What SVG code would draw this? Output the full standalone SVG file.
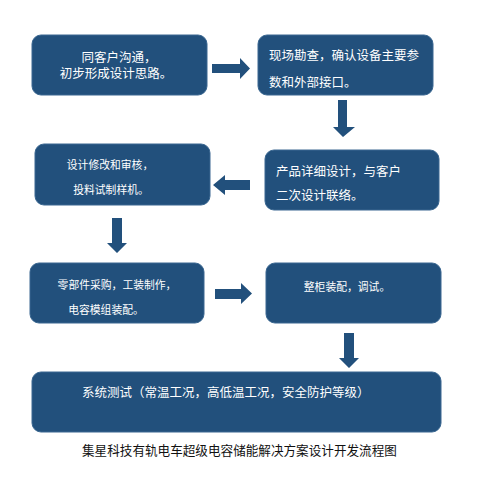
<svg xmlns="http://www.w3.org/2000/svg" width="480" height="494" viewBox="0 0 480 494">
<style>
.box{fill:#22507c;stroke:#3a6791;stroke-width:1}
.arr{fill:#22507c}
.t{font-family:"Liberation Sans","Noto Sans CJK SC",sans-serif;fill:#ffffff;font-size:12.5px}
.s{font-size:10.8px}
.cap{font-family:"Liberation Sans","Noto Sans CJK SC",sans-serif;fill:#111111;font-size:12.6px}
</style>
<rect width="480" height="494" fill="#ffffff"/>
<g id="n1"><rect class="box" x="32" y="35" width="175" height="60" rx="9"/>
<text class="t" x="119" y="62" text-anchor="middle">同客户沟通，</text>
<text class="t" x="116" y="78" text-anchor="middle">初步形成设计思路。</text></g>
<g id="n2"><rect class="box" x="258" y="35" width="175" height="60" rx="9"/>
<text class="t" x="269" y="60">现场勘查，确认设备主要参</text>
<text class="t" x="269" y="87">数和外部接口。</text></g>
<g id="n3"><rect class="box" x="35" y="144" width="175" height="61" rx="9"/>
<text class="t s" x="110" y="169" text-anchor="middle">设计修改和审核，</text>
<text class="t s" x="111" y="194" text-anchor="middle">投料试制样机。</text></g>
<g id="n4"><rect class="box" x="265" y="150" width="174" height="60" rx="9"/>
<text class="t" x="276" y="176">产品详细设计，与客户</text>
<text class="t" x="276" y="200">二次设计联络。</text></g>
<g id="n5"><rect class="box" x="30" y="263" width="174" height="60" rx="9"/>
<text class="t s" x="117" y="289" text-anchor="middle">零部件采购，工装制作，</text>
<text class="t s" x="106" y="314" text-anchor="middle">电容模组装配。</text></g>
<g id="n6"><rect class="box" x="266" y="263" width="175" height="60" rx="9"/>
<text class="t s" x="347" y="291" text-anchor="middle">整柜装配，调试。</text></g>
<g id="n7"><rect class="box" x="32" y="372" width="409" height="60" rx="9"/>
<text class="t" x="82" y="397">系统测试（常温工况，高低温工况，安全防护等级）</text></g>
<g id="connectors">
<polygon class="arr" points="212,64 240,64 240,58 250,68.5 240,79 240,73 212,73"/>
<polygon class="arr" points="338,100 347,100 347,127 355,127 343,137 333,127 338,127"/>
<polygon class="arr" points="250,180 225,180 225,175 213,185 225,195 225,190 250,190"/>
<polygon class="arr" points="112,218 122,218 122,243 127,243 117,253 107,243 112,243"/>
<polygon class="arr" points="215,289 241,289 241,283 252,293.5 241,304 241,299 215,299"/>
<polygon class="arr" points="344,333 354,333 354,358 359,358 349,368 339,358 344,358"/>
</g>
<text class="cap" x="82" y="455">集星科技有轨电车超级电容储能解决方案设计开发流程图</text>
</svg>
